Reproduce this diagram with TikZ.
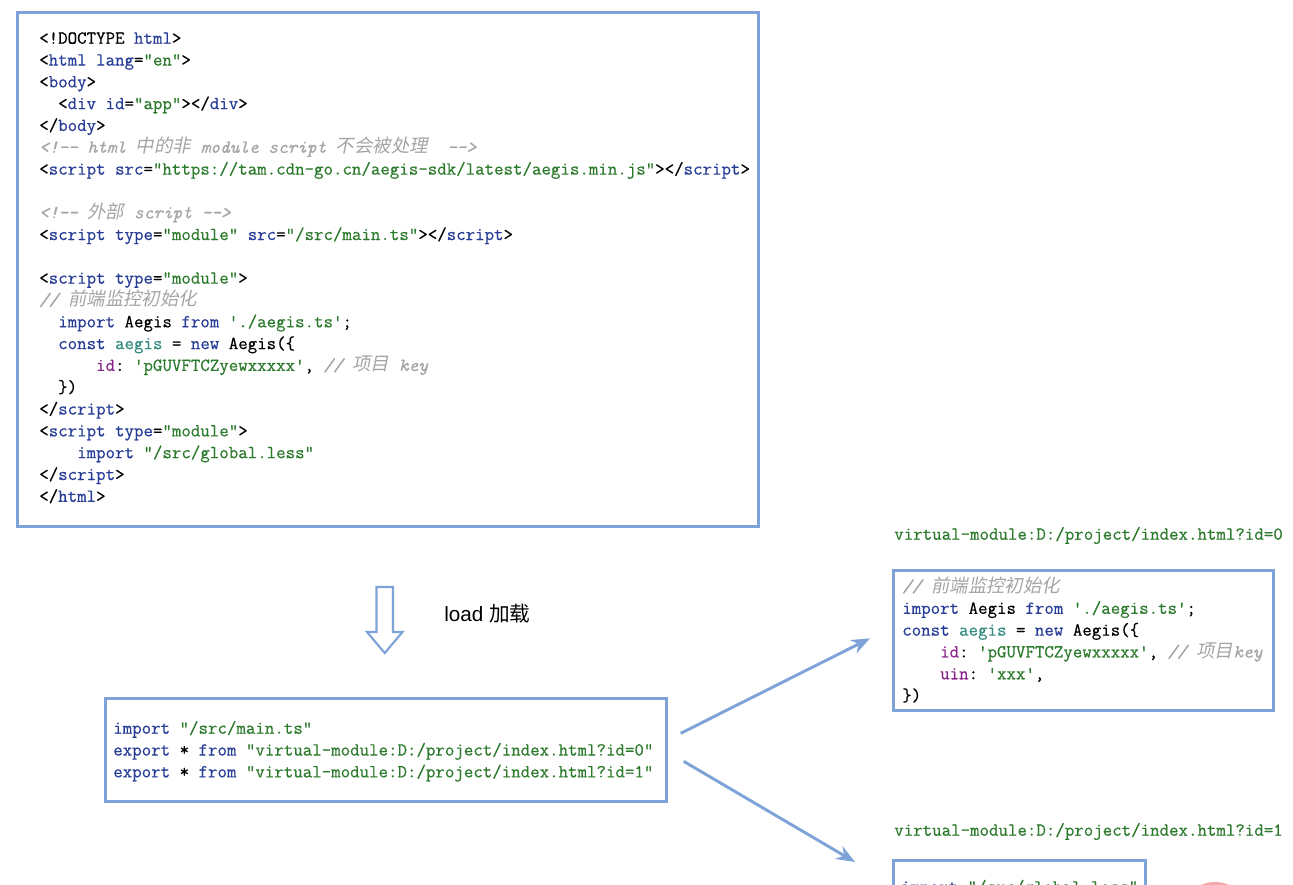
\documentclass[tikz,border=0pt]{standalone}
\usepackage{fontspec}
\setmainfont{Liberation Sans}
\setmonofont[FakeBold=0.5]{Latin Modern Mono}
\newfontfamily\cjk{Noto Sans CJK SC}
\newfontfamily\cjkit[FakeSlant=0.2]{Noto Sans CJK SC}
\usetikzlibrary{arrows.meta}

\definecolor{boxblue}{RGB}{126,163,217}
\definecolor{tagblue}{RGB}{38,60,150}
\definecolor{strgreen}{RGB}{44,122,44}
\definecolor{vteal}{RGB}{52,140,128}
\definecolor{ppurple}{RGB}{138,36,138}
\definecolor{cmtgray}{RGB}{165,165,165}
\definecolor{dotred}{RGB}{247,168,168}

\newcommand\codefont{\ttfamily\fontsize{13.8}{16.36}\selectfont}
\newcommand\tg[1]{\textcolor{tagblue}{#1}}
\newcommand\strg[1]{\textcolor{strgreen}{#1}}
\newcommand\vname[1]{\textcolor{vteal}{#1}}
\newcommand\pname[1]{\textcolor{ppurple}{#1}}
\newcommand\cmt[1]{\textcolor{cmtgray}{\itshape #1}}
\newcommand\zh[1]{{\cjkit #1}}

\begin{document}
\begin{tikzpicture}[x=0.75pt,y=-0.75pt,
  codebox/.style={draw=boxblue, line width=2pt, inner sep=0, anchor=north west},
  code/.style={anchor=north west, inner sep=0, align=left, font=\codefont},
  link/.style={draw=boxblue, line width=2.2pt, -{Stealth[length=14pt,width=11pt]}}]
\clip (0,0) rectangle (1293,885);
\fill[white] (0,0) rectangle (1293,885);

% the html page
\node[codebox, minimum width=555.75pt, minimum height=385.5pt] (page) at (16,11) {};
\node[code] (pagecode) at (39,28.2) {\strut<!DOCTYPE \tg{html}>\\
<\tg{html lang}=\strg{"en"}>\\
<\tg{body}>\\
\hphantom{xx}<\tg{div id}=\strg{"app"}></\tg{div}>\\
</\tg{body}>\\
\cmt{<!-- html \zh{中的非} module script \zh{不会被处理}\hphantom{xx}-->}\\
<\tg{script src}=\strg{"https://tam.cdn-go.cn/aegis-sdk/latest/aegis.min.js"}></\tg{script}>\\[16.36pt]
\cmt{<!-- \zh{外部} script -->}\\
<\tg{script type}=\strg{"module"} \tg{src}=\strg{"/src/main.ts"}></\tg{script}>\\[16.36pt]
<\tg{script type}=\strg{"module"}>\\
\cmt{// \zh{前端监控初始化}}\\
\hphantom{xx}\tg{import} Aegis \tg{from} \strg{'./aegis.ts'};\\
\hphantom{xx}\tg{const} \vname{aegis} = \tg{new} Aegis(\{\\
\hphantom{xxxxxx}\pname{id}: \strg{'pGUVFTCZyewxxxxx'}, \cmt{// \zh{项目} key}\\
\hphantom{xx}\})\\
</\tg{script}>\\
<\tg{script type}=\strg{"module"}>\\
\hphantom{xxxx}\tg{import} \strg{"/src/global.less"}\\
</\tg{script}>\\
</\tg{html}>};

% load step
\draw[boxblue, line width=1.6pt, fill=white] (376.5,587) -- (393,587) -- (393,632) -- (402.5,632)
  -- (384.75,653) -- (367,632) -- (376.5,632) -- cycle;
\node[anchor=west, inner sep=0, font=\fontsize{15.5}{18}\selectfont] (loadlbl) at (444,614) {load {\cjk 加载}};

% entry module
\node[codebox, minimum width=420.75pt, minimum height=77.25pt] (entry) at (104,697) {};
\node[code] (entrycode) at (113,718.2) {\strut\tg{import} \strg{"/src/main.ts"}\\
\tg{export} * \tg{from} \strg{"virtual-module:D:/project/index.html?id=0"}\\
\tg{export} * \tg{from} \strg{"virtual-module:D:/project/index.html?id=1"}};

% virtual modules
\node[code] (lab0) at (894,524.2) {\strut\strg{virtual-module:D:/project/index.html?id=0}};
\node[codebox, minimum width=285pt, minimum height=105pt] (mod0) at (892,569) {};
\node[code] (mod0code) at (902,576.2) {\strut\cmt{// \zh{前端监控初始化}}\\
\tg{import} Aegis \tg{from} \strg{'./aegis.ts'};\\
\tg{const} \vname{aegis} = \tg{new} Aegis(\{\\
\hphantom{xxxx}\pname{id}: \strg{'pGUVFTCZyewxxxxx'}, \cmt{// \zh{项目}key}\\
\hphantom{xxxx}\pname{uin}: \strg{'xxx'},\\
\})};

\node[code] (lab1) at (894,820.2) {\strut\strg{virtual-module:D:/project/index.html?id=1}};
\node[codebox, minimum width=189pt, minimum height=75pt] (mod1) at (892,859) {};
\node[code] (mod1code) at (901,877) {\strut\tg{import} \strg{"/src/global.less"}};

\coordinate (tip1) at (855,862);
\draw[link] ([shift={(13,-16.5)}]entry.east) -- ([shift={(-22,-2)}]mod0.west);
\draw[link] ([shift={(16,11.5)}]entry.east) -- (tip1);

\fill[dotred] (1215,918) circle[radius=27pt];
\end{tikzpicture}
\end{document}
